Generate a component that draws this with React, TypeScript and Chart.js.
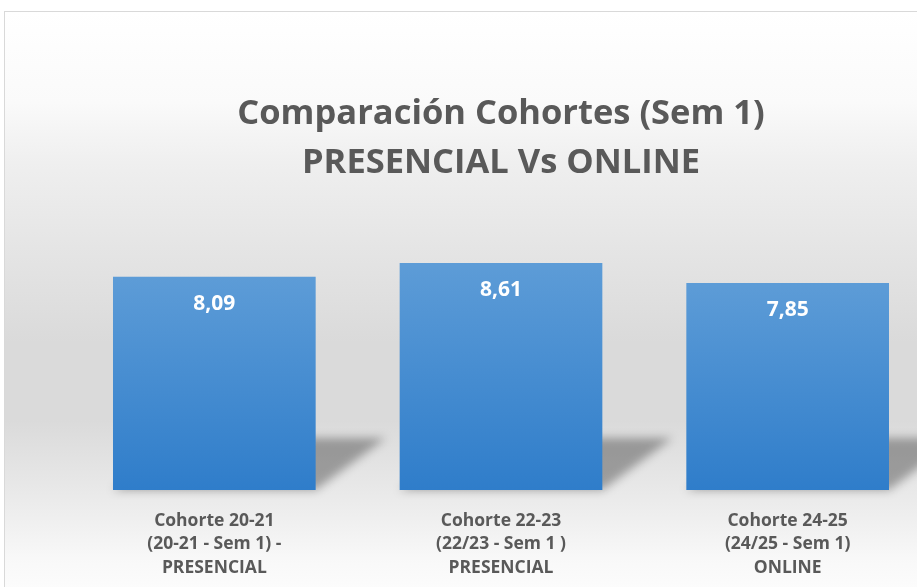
import React, { useEffect, useRef } from "react";
import { Chart, registerables } from "chart.js";

Chart.register(...registerables);

const titleLines = ["Comparación Cohortes (Sem 1)", "PRESENCIAL Vs ONLINE"];
const categories = [
  ["Cohorte 20-21", "(20-21 - Sem 1) -", "PRESENCIAL"],
  ["Cohorte 22-23", "(22/23 - Sem 1 )", "PRESENCIAL"],
  ["Cohorte 24-25", "(24/25 - Sem 1)", "ONLINE"],
];
const values = [8.09, 8.61, 7.85];
const yMax = 10;

const FONT = "'Open Sans', Lato, sans-serif";
const GRAY = "#595959";

const shadowPlugin = {
  id: "barShadow",
  beforeDatasetsDraw(chart: any) {
    const ctx = chart.ctx;
    const meta = chart.getDatasetMeta(0);
    ctx.save();
    ctx.filter = "blur(5px)";
    ctx.fillStyle = "rgba(0,0,0,0.32)";
    meta.data.forEach((bar: any) => {
      const xl = bar.x - bar.width / 2;
      const xr = bar.x + bar.width / 2;
      const b = bar.base;
      ctx.beginPath();
      ctx.moveTo(xl, b);
      ctx.lineTo(xr, b);
      ctx.lineTo(xr + 70, b - 52);
      ctx.lineTo(xl + 70, b - 52);
      ctx.closePath();
      ctx.fill();
    });
    ctx.restore();
  },
};

const labelPlugin = {
  id: "barLabels",
  afterDatasetsDraw(chart: any) {
    const ctx = chart.ctx;
    const meta = chart.getDatasetMeta(0);
    ctx.save();
    ctx.fillStyle = "#ffffff";
    ctx.font = `bold 21px ${FONT}`;
    ctx.textAlign = "center";
    ctx.textBaseline = "middle";
    meta.data.forEach((bar: any, i: number) => {
      const v = values[i].toFixed(2).replace(".", ",");
      ctx.fillText(v, bar.x, bar.y + 27);
    });
    ctx.restore();
  },
};

export default function App() {
  const ref = useRef<HTMLCanvasElement>(null);
  useEffect(() => {
    if (!ref.current) return;
    const chart = new Chart(ref.current, {
      type: "bar",
      data: {
        labels: categories,
        datasets: [
          {
            data: values,
            backgroundColor: (c: any) => {
              const ch = c.chart;
              const ys = ch.scales?.y;
              if (!ys || c.raw == null) return "#4a8fd2";
              const top = ys.getPixelForValue(c.raw);
              const bot = ys.getPixelForValue(0);
              if (!isFinite(top) || !isFinite(bot) || top === bot) return "#4a8fd2";
              const g = ch.ctx.createLinearGradient(0, top, 0, bot);
              g.addColorStop(0, "#5d9cd7");
              g.addColorStop(1, "#2f7dca");
              return g;
            },
            borderWidth: 0,
            categoryPercentage: 1,
            barPercentage: 0.707,
          },
        ],
      },
      options: {
        responsive: false,
        animation: false,
        devicePixelRatio: 1,
        layout: { padding: { left: 66, right: 26, top: 0, bottom: 0 } },
        plugins: {
          legend: { display: false },
          tooltip: { enabled: false },
          title: {
            display: true,
            text: titleLines,
            color: GRAY,
            font: { family: FONT, size: 34.5, weight: "bold", lineHeight: 1.44 },
            padding: { top: 77, bottom: 38 },
          },
        },
        scales: {
          y: { display: false, min: 0, max: yMax },
          x: {
            grid: { display: false, drawTicks: false },
            border: { display: false },
            ticks: {
              color: GRAY,
              padding: 19,
              maxRotation: 0,
              autoSkip: false,
              font: { family: FONT, size: 17.5, weight: "bold", lineHeight: 1.34 },
            },
            afterFit: (s: any) => {
              s.height = 112;
            },
          },
        },
      },
      plugins: [shadowPlugin, labelPlugin],
    } as any);
    return () => chart.destroy();
  }, []);

  return (
    <div
      style={{
        position: "fixed",
        left: 0,
        top: 0,
        width: 917,
        height: 587,
        overflow: "hidden",
        background: "#ffffff",
      }}
    >
      <div
        style={{
          position: "absolute",
          left: 4,
          top: 11,
          width: 952,
          height: 600,
          border: "1px solid #d9d9d9",
          background:
            "linear-gradient(to bottom, #ffffff 0%, #fafafa 15%, #efefef 25%, #dadada 55%, #dadada 68%, #e9e9e9 80%, #f8f8f8 91%, #ffffff 100%)",
        }}
      >
        <canvas ref={ref} width={952} height={590} style={{ display: "block" }} />
      </div>
    </div>
  );
}
